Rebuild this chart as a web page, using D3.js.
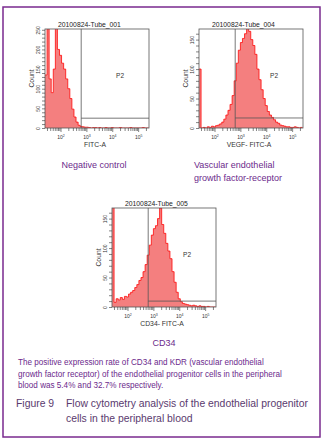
<!DOCTYPE html>
<html>
<head>
<meta charset="utf-8">
<script src="https://cdn.jsdelivr.net/npm/d3@7"></script>
<style>
  body { margin: 0; background: #fff; }
  svg { display: block; font-family: "Liberation Sans", Arial, sans-serif; }
  .axis text { font-size: 5px; fill: #333; }
  .axis line, .axis path { stroke: #333; stroke-width: 0.6; }
</style>
</head>
<body>
<svg id="fig" width="328" height="445"></svg>
<script>
// Histogram bins: log10 start and width of each bin (channels)
var binStart = 1.4, binStep = 0.08;

var titles = ['20100824-Tube_001', '20100824-Tube_004', '20100824-Tube_005'];
var xLabels = ['FITC-A', 'VEGF- FITC-A', 'CD34- FITC-A'];
var yMax = [252, 168, 168];
var gateLow = 630;            // P2 lower bound
var gateCounts = [25, 17, 10]; // height of the P2 gate bar

// counts per bin
var tube001 = [135, 300, 125, 90, 150, 280, 200, 185, 165, 150, 125, 100, 75, 48, 28, 15,
               7, 4, 3, 2, 2, 1, 0, 1, 1, 0, 1, 0, 0, 1, 0, 0, 1, 0, 0, 0, 1, 0, 0, 0,
               0, 1, 0, 0, 0, 0, 0, 1, 0, 0];
var tube004 = [100, 0, 1, 0, 2, 1, 3, 2, 4, 5, 7, 10, 15, 22, 30, 40,
               55, 80, 110, 132, 145, 152, 160, 172, 164, 150, 140, 125, 100, 82, 65, 50,
               38, 28, 22, 18, 14, 10, 8, 5, 4, 3, 2, 2, 1, 1, 2, 1, 0, 1];
var tube005 = [175, 8, 14, 12, 16, 13, 18, 17, 22, 25, 28, 33, 38, 45, 50, 60,
               72, 88, 105, 122, 133, 138, 150, 168, 140, 125, 108, 95, 82, 60, 42, 25,
               14, 9, 6, 5, 4, 3, 2, 3, 2, 1, 2, 1, 1, 0, 1, 0, 0, 0];
var series = [tube001, tube004, tube005];

var captions = [['Negative control'], ['Vascular endothelial', 'growth factor-receptor'], ['CD34']];
var note = ['The positive expression rate of CD34 and KDR (vascular endothelial',
            'growth factor receptor) of the endothelial progenitor cells in the peripheral',
            'blood was 5.4% and 32.7% respectively.'];
var figLines = ['Flow cytometry analysis of the endothelial progenitor',
                'cells in the peripheral blood'];

// layout
var pw = 104, ph = 99;
var origins = [[45, 29], [199, 29], [112, 208]];
var captionPos = [[94, 168, 'middle'], [194, 168, 'start'], [164, 346, 'middle']];

var svg = d3.select('#fig');
var purple = '#6c2a8c';

svg.append('rect').attr('x', 3).attr('y', 7).attr('width', 317).attr('height', 430)
   .attr('fill', 'none').attr('stroke', '#7a2a8e').attr('stroke-width', 1.5);

var xScale = d3.scaleLog().domain([Math.pow(10, 1.4), Math.pow(10, 5.42)]).range([0, pw]);

var majors = [1e2, 1e3, 1e4, 1e5];
var minors = [];
[10, 100, 1000, 10000, 100000].forEach(function(b) {
    for (var k = 2; k <= 9; k++) {
        var v = b * k;
        if (v >= xScale.domain()[0] && v <= xScale.domain()[1]) minors.push(v);
    }
});

series.forEach(function(counts, p) {
    var g = svg.append('g').attr('transform', 'translate(' + origins[p][0] + ',' + origins[p][1] + ')');
    var yScale = d3.scaleLinear().domain([0, yMax[p]]).range([ph, 0]);

    var clipId = 'clip' + p;
    g.append('clipPath').attr('id', clipId)
     .append('rect').attr('width', pw).attr('height', ph);

    // histogram as steps
    var pts = counts.map(function(c, i) { return [Math.pow(10, binStart + binStep * i), c]; });
    pts.push([Math.pow(10, binStart + binStep * counts.length), counts[counts.length - 1]]);
    var area = d3.area().curve(d3.curveStepAfter)
        .x(function(d) { return xScale(d[0]); })
        .y0(ph).y1(function(d) { return yScale(d[1]); });
    var line = d3.line().curve(d3.curveStepAfter)
        .x(function(d) { return xScale(d[0]); })
        .y(function(d) { return yScale(d[1]); });
    var hist = g.append('g').attr('clip-path', 'url(#' + clipId + ')');
    hist.append('path').datum(pts).attr('d', area).attr('fill', '#f47f7f');
    hist.append('path').datum(pts).attr('d', line).attr('fill', 'none')
        .attr('stroke', '#ff0a0a').attr('stroke-width', 0.8);

    // frame
    g.append('rect').attr('width', pw).attr('height', ph)
     .attr('fill', 'none').attr('stroke', '#555').attr('stroke-width', 0.8);

    // P2 gate
    var gx = xScale(gateLow);
    g.append('line').attr('x1', gx).attr('x2', gx).attr('y1', 0).attr('y2', ph)
     .attr('stroke', '#555').attr('stroke-width', 0.8);
    g.append('line').attr('x1', gx).attr('x2', pw)
     .attr('y1', yScale(gateCounts[p])).attr('y2', yScale(gateCounts[p]))
     .attr('stroke', '#555').attr('stroke-width', 0.8);
    g.append('text').attr('x', xScale(2e4)).attr('y', 49).attr('text-anchor', 'middle')
     .attr('font-size', 6.5).attr('fill', '#333').text('P2');

    // x axis
    var xAxisMinor = g.append('g').classed('axis', true).attr('transform', 'translate(0,' + ph + ')')
        .call(d3.axisBottom(xScale).tickValues(minors).tickSize(3).tickFormat(''));
    xAxisMinor.select('.domain').remove();
    var xAxis = g.append('g').classed('axis', true).attr('transform', 'translate(0,' + ph + ')')
        .call(d3.axisBottom(xScale).tickValues(majors).tickSize(4).tickFormat(''));
    xAxis.select('.domain').remove();
    xAxis.selectAll('.tick').append('text').attr('y', 11).attr('text-anchor', 'middle')
        .each(function(d) {
            var t = d3.select(this);
            t.append('tspan').text('10');
            t.append('tspan').attr('dy', -2).attr('font-size', 3.5).text(Math.round(Math.log10(d)));
        });

    // y axis
    var yAxis = g.append('g').classed('axis', true)
        .call(d3.axisLeft(yScale).tickValues(d3.range(0, yMax[p], 10)).tickSize(3)
              .tickFormat(function(d) { return d % 50 === 0 ? d : ''; }));
    yAxis.select('.domain').remove();
    yAxis.selectAll('.tick text').attr('transform', 'rotate(-90)')
        .attr('x', 0).attr('y', -5).attr('dy', 0).attr('text-anchor', 'middle');

    // titles and labels
    g.append('text').attr('x', 13).attr('y', -2).attr('font-size', 6.8).attr('fill', '#222')
     .text(titles[p]);
    g.append('text').attr('x', pw / 2 - 2).attr('y', ph + 19).attr('text-anchor', 'middle')
     .attr('font-size', 6.8).attr('fill', '#333').text(xLabels[p]);
    g.append('text').attr('transform', 'translate(-11,' + (ph / 2) + ') rotate(-90)')
     .attr('text-anchor', 'middle').attr('font-size', 6.8).attr('fill', '#333').text('Count');

    // caption below the panel
    var cp = captionPos[p];
    captions[p].forEach(function(s, i) {
        svg.append('text').attr('x', cp[0]).attr('y', cp[1] + i * 13).attr('text-anchor', cp[2])
           .attr('font-size', 9).attr('fill', purple).text(s);
    });
});

note.forEach(function(s, i) {
    svg.append('text').attr('x', 18).attr('y', 365 + i * 11.5)
       .attr('font-size', 8.15).attr('fill', purple).text(s);
});

svg.append('text').attr('x', 16).attr('y', 407).attr('font-size', 10.4)
   .attr('fill', '#5a3a6e').text('Figure 9');
figLines.forEach(function(s, i) {
    svg.append('text').attr('x', 66).attr('y', 407 + i * 15).attr('font-size', 10.4)
       .attr('fill', '#5a3a6e').text(s);
});
</script>
</body>
</html>
